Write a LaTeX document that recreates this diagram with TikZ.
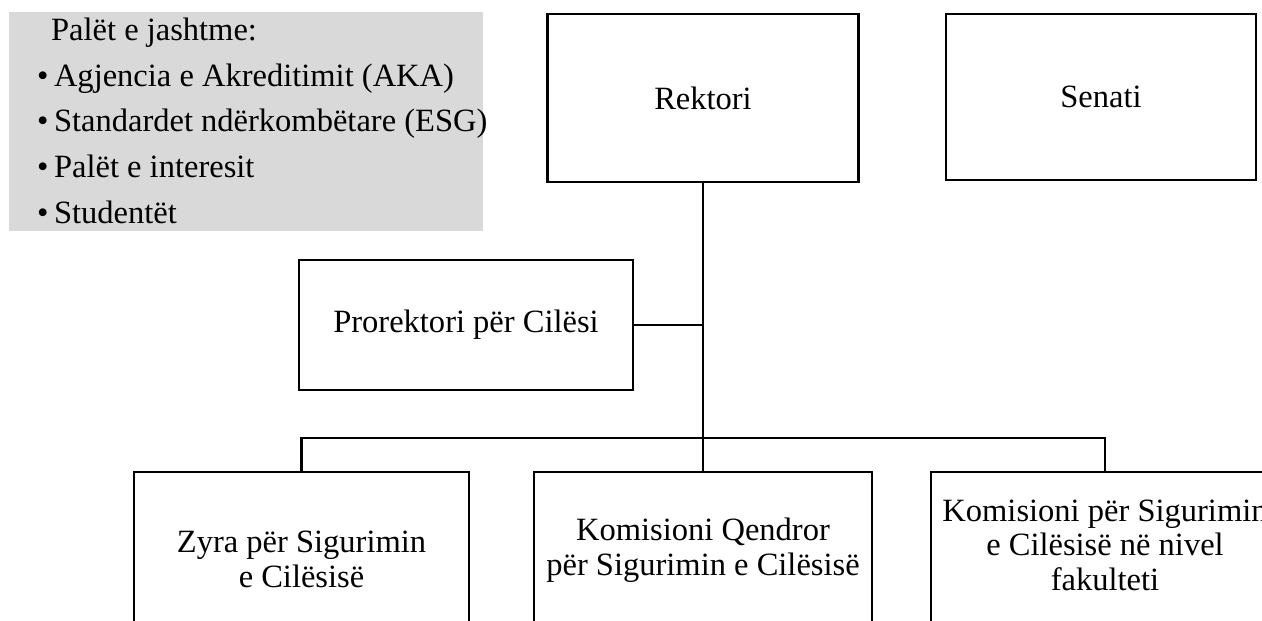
\documentclass[tikz,border=0pt]{standalone}
\usepackage{fontspec}
\setmainfont{Liberation Serif}
\usetikzlibrary{positioning}
\definecolor{paletgrey}{HTML}{D9D9D9}

\begin{document}
\begin{tikzpicture}[line width=0.6pt,
    box/.style={draw, rectangle, align=center, font=\fontsize{9.25}{9.9}\selectfont}]
    \useasboundingbox (0,0) rectangle (12.62,6.21);
    \clip (0,0) rectangle (12.62,6.21);

    % Nodes
    \node (palet) [fill=paletgrey, anchor=north west, minimum width=4.74cm, minimum height=2.19cm, inner sep=0pt] at (0.08,6.10) {};
    \node (lista) [anchor=north west, align=left, inner sep=0pt, font=\fontsize{9.25}{13}\selectfont] at ([xshift=0.28cm, yshift=-0.06cm]palet.north west)
        {\hspace*{4pt}Palët e jashtme:\\ •\hspace{1.6pt}Agjencia e Akreditimit (AKA)\\ •\hspace{1.6pt}Standardet ndërkombëtare (ESG)\\ •\hspace{1.6pt}Palët e interesit\\ •\hspace{1.6pt}Studentët};
    \node (rektori) [box, minimum width=3.11cm, minimum height=1.68cm] at (7.03,5.23) {Rektori};
    \node (senati) [box, minimum width=3.10cm, minimum height=1.66cm] at (11.01,5.24) {Senati};
    \node (prorektori) [box, minimum width=3.34cm, minimum height=1.30cm] at (4.66,2.96) {Prorektori për Cilësi};
    \node (zyra) [box, anchor=north, minimum width=3.35cm, minimum height=1.75cm] at (3.015,1.50) {Zyra për Sigurimin\\ e Cilësisë};
    \node (qendror) [box, anchor=north, minimum width=3.38cm, minimum height=1.57cm] at (7.03,1.50) {Komisioni Qendror\\ për Sigurimin e Cilësisë};
    \node (fakulteti) [box, anchor=north, minimum width=3.34cm, minimum height=1.70cm, text depth=0.24cm] at (11.05,1.50) {Komisioni për Sigurimin\\ e Cilësisë në nivel\\ fakulteti};
    \coordinate (bar) at (7.03,1.83);

    % Edges
    \draw (rektori.south) -- (qendror.north);
    \draw (prorektori.east) -- (prorektori.east -| qendror.north);
    \draw (zyra.north) |- (bar) -| (fakulteti.north);
\end{tikzpicture}
\end{document}
